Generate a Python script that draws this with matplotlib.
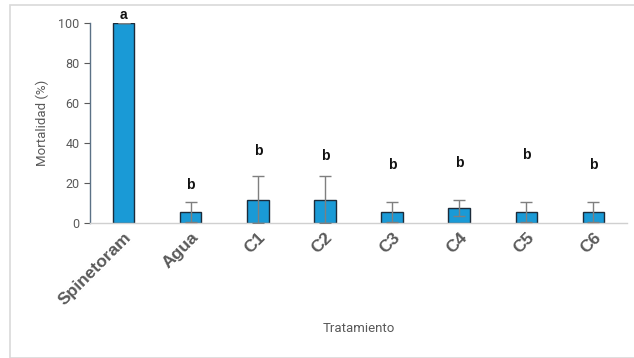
import matplotlib.pyplot as plt
from matplotlib.patches import Rectangle

# Mortalidad media por tratamiento, con su error y letra de significancia
tratamientos = ['Spinetoram', 'Agua', 'C1', 'C2', 'C3', 'C4', 'C5', 'C6']
mortalidad = [100, 5.5, 11.7, 11.7, 5.5, 7.5, 5.5, 5.5]
error = [0, 5, 11.7, 11.7, 5, 4, 5, 5]
letras = ['a', 'b', 'b', 'b', 'b', 'b', 'b', 'b']
pos_letras = [100.3, 15.5, 32.5, 30, 25.7, 26.5, 30.7, 25.7]

plt.rcParams['font.family'] = ['Roboto', 'DejaVu Sans']

fig = plt.figure(figsize=(6.34, 3.58), dpi=100)
ax = fig.add_axes([0.142, 0.377, 0.847, 0.559])

# marco gris alrededor del gráfico
fig.patches.append(Rectangle((10 / 634, 0.0), 1.0, 1 - 5 / 358, transform=fig.transFigure,
                             fill=False, edgecolor='#d9d9d9', linewidth=1.2))

x = range(len(tratamientos))
ax.bar(x, mortalidad, width=0.32, color='#1a9ad6', edgecolor='#1c2b3a', linewidth=1.0, zorder=2)
ax.errorbar(x, mortalidad, yerr=error, fmt='none', ecolor='#7f7f7f', elinewidth=1.0,
            capsize=4, capthick=1.0, zorder=3)

for xi, letra, yl in zip(x, letras, pos_letras):
    ax.text(xi, yl, letra, ha='center', va='bottom', fontsize=10, fontweight='bold',
            color='#111111', family='Liberation Sans')

ax.set_xlim(-0.5, 7.5)
ax.set_ylim(0, 100)
ax.set_yticks([0, 20, 40, 60, 80, 100])
ax.tick_params(axis='y', labelsize=9, colors='#595959', length=4, width=0.8, direction='out')
ax.tick_params(axis='x', length=0, pad=5)
ax.set_xticks(list(x))
ax.set_xticklabels(tratamientos, rotation=45, ha='right', rotation_mode='anchor',
                   fontsize=12.5, fontweight='bold', color='#595959', family='Liberation Sans')

for side in ['top', 'right']:
    ax.spines[side].set_visible(False)
ax.spines['left'].set_color('#5b7186')
ax.spines['left'].set_linewidth(1.0)
ax.spines['bottom'].set_color('#d0d0d0')
ax.spines['bottom'].set_linewidth(1.0)

ax.set_ylabel('Mortalidad (%)', fontsize=9.5, color='#595959', labelpad=7)
ax.set_xlabel('Tratamiento', fontsize=9.5, color='#595959', labelpad=10)

fig.savefig('out.png', dpi=100)
